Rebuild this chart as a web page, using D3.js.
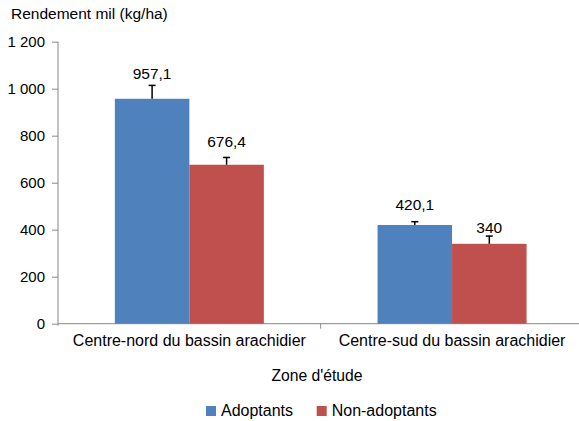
<!DOCTYPE html>
<html><head><meta charset="utf-8">
<script src="https://cdn.jsdelivr.net/npm/d3@7"></script>
<style>body{margin:0;background:#fff}svg{display:block}text{font-family:"Liberation Sans",Arial,sans-serif;fill:#000}</style>
</head><body>
<script>
const categories = ["Centre-nord du bassin arachidier", "Centre-sud du bassin arachidier"];
const seriesNames = ["Adoptants", "Non-adoptants"];
const adoptants = [957.1, 420.1];
const nonAdoptants = [676.4, 340];
const adoptantsErr = [57, 14];
const nonAdoptantsErr = [31, 33];
const valueLabels = [["957,1", "420,1"], ["676,4", "340"]];
const yTicks = [0, 200, 400, 600, 800, 1000, 1200];
const colors = ["#4F81BD", "#C0504D"];
// label baseline offsets above bar top (px), as placed in the reference
const labelOffsets = [[20, 14.5], [17.5, 11]];

const W = 579, H = 421;
const svg = d3.select("body").append("svg").attr("width", W).attr("height", H);

const x0 = d3.scaleBand().domain(categories).range([58, 583.4]).paddingInner(0).paddingOuter(0);
const x1 = d3.scaleBand().domain(seriesNames).range([0, x0.bandwidth()]).paddingInner(0).paddingOuter(0.763);
const y = d3.scaleLinear().domain([0, 1200]).range([323.7, 41.7]);

const fmt = v => v >= 1000 ? d3.format(",")(v).replace(",", " ") : String(v);
const FF = '"Liberation Sans",Arial,sans-serif';

// y axis
const yAxis = svg.append("g").attr("transform", "translate(58,0)")
  .call(d3.axisLeft(y).tickValues(yTicks).tickSize(6).tickPadding(7).tickFormat(fmt));
yAxis.select(".domain").attr("stroke", "#888").attr("d", `M0,${y(1200)}V${y(0) + 2}`);
yAxis.selectAll(".tick line").attr("stroke", "#888");
yAxis.selectAll(".tick text").attr("font-size", 15).style("font-family", FF);

// x axis
const xAxis = svg.append("g").attr("transform", `translate(0,${y(0)})`)
  .call(d3.axisBottom(x0).tickSize(0).tickPadding(11));
xAxis.select(".domain").attr("stroke", "#888").attr("d", `M58,0H583.4`);
xAxis.selectAll(".tick text").attr("font-size", 16).style("font-family", FF);
svg.append("line").attr("x1", x0(categories[1])).attr("x2", x0(categories[1]))
  .attr("y1", y(0)).attr("y2", y(0) + 5).attr("stroke", "#888");

const series = [
  {name: seriesNames[0], values: adoptants, err: adoptantsErr, labels: valueLabels[0], off: labelOffsets[0], color: colors[0]},
  {name: seriesNames[1], values: nonAdoptants, err: nonAdoptantsErr, labels: valueLabels[1], off: labelOffsets[1], color: colors[1]}
];

series.forEach(s => {
  const g = svg.append("g");
  categories.forEach((c, i) => {
    const bx = x0(c) + x1(s.name), bw = x1.bandwidth();
    const v = s.values[i];
    g.append("rect").attr("x", bx).attr("y", y(v)).attr("width", bw).attr("height", y(0) - y(v))
      .attr("fill", s.color);
    const cx = bx + bw / 2;
    g.append("line").attr("x1", cx).attr("x2", cx).attr("y1", y(v)).attr("y2", y(v + s.err[i]))
      .attr("stroke", "#000").attr("stroke-width", 1.5);
    g.append("line").attr("x1", cx - 3.5).attr("x2", cx + 3.5).attr("y1", y(v + s.err[i])).attr("y2", y(v + s.err[i]))
      .attr("stroke", "#000").attr("stroke-width", 1.5);
    g.append("text").attr("x", cx).attr("y", y(v) - s.off[i]).attr("text-anchor", "middle")
      .attr("font-size", 15.5).text(s.labels[i]);
  });
});

// y title
svg.append("text").attr("x", 11).attr("y", 19).attr("font-size", 15.5).text("Rendement mil (kg/ha)");
// x title
svg.append("text").attr("x", 317).attr("y", 381).attr("text-anchor", "middle").attr("font-size", 15.7).text("Zone d'étude");

// legend
const leg = svg.append("g");
const legX = [206, 316.7];
series.forEach((s, i) => {
  leg.append("rect").attr("x", legX[i]).attr("y", 406).attr("width", 10).attr("height", 10).attr("fill", s.color);
  leg.append("text").attr("x", legX[i] + 15).attr("y", 416).attr("font-size", 16).text(s.name);
});
</script>
</body></html>
